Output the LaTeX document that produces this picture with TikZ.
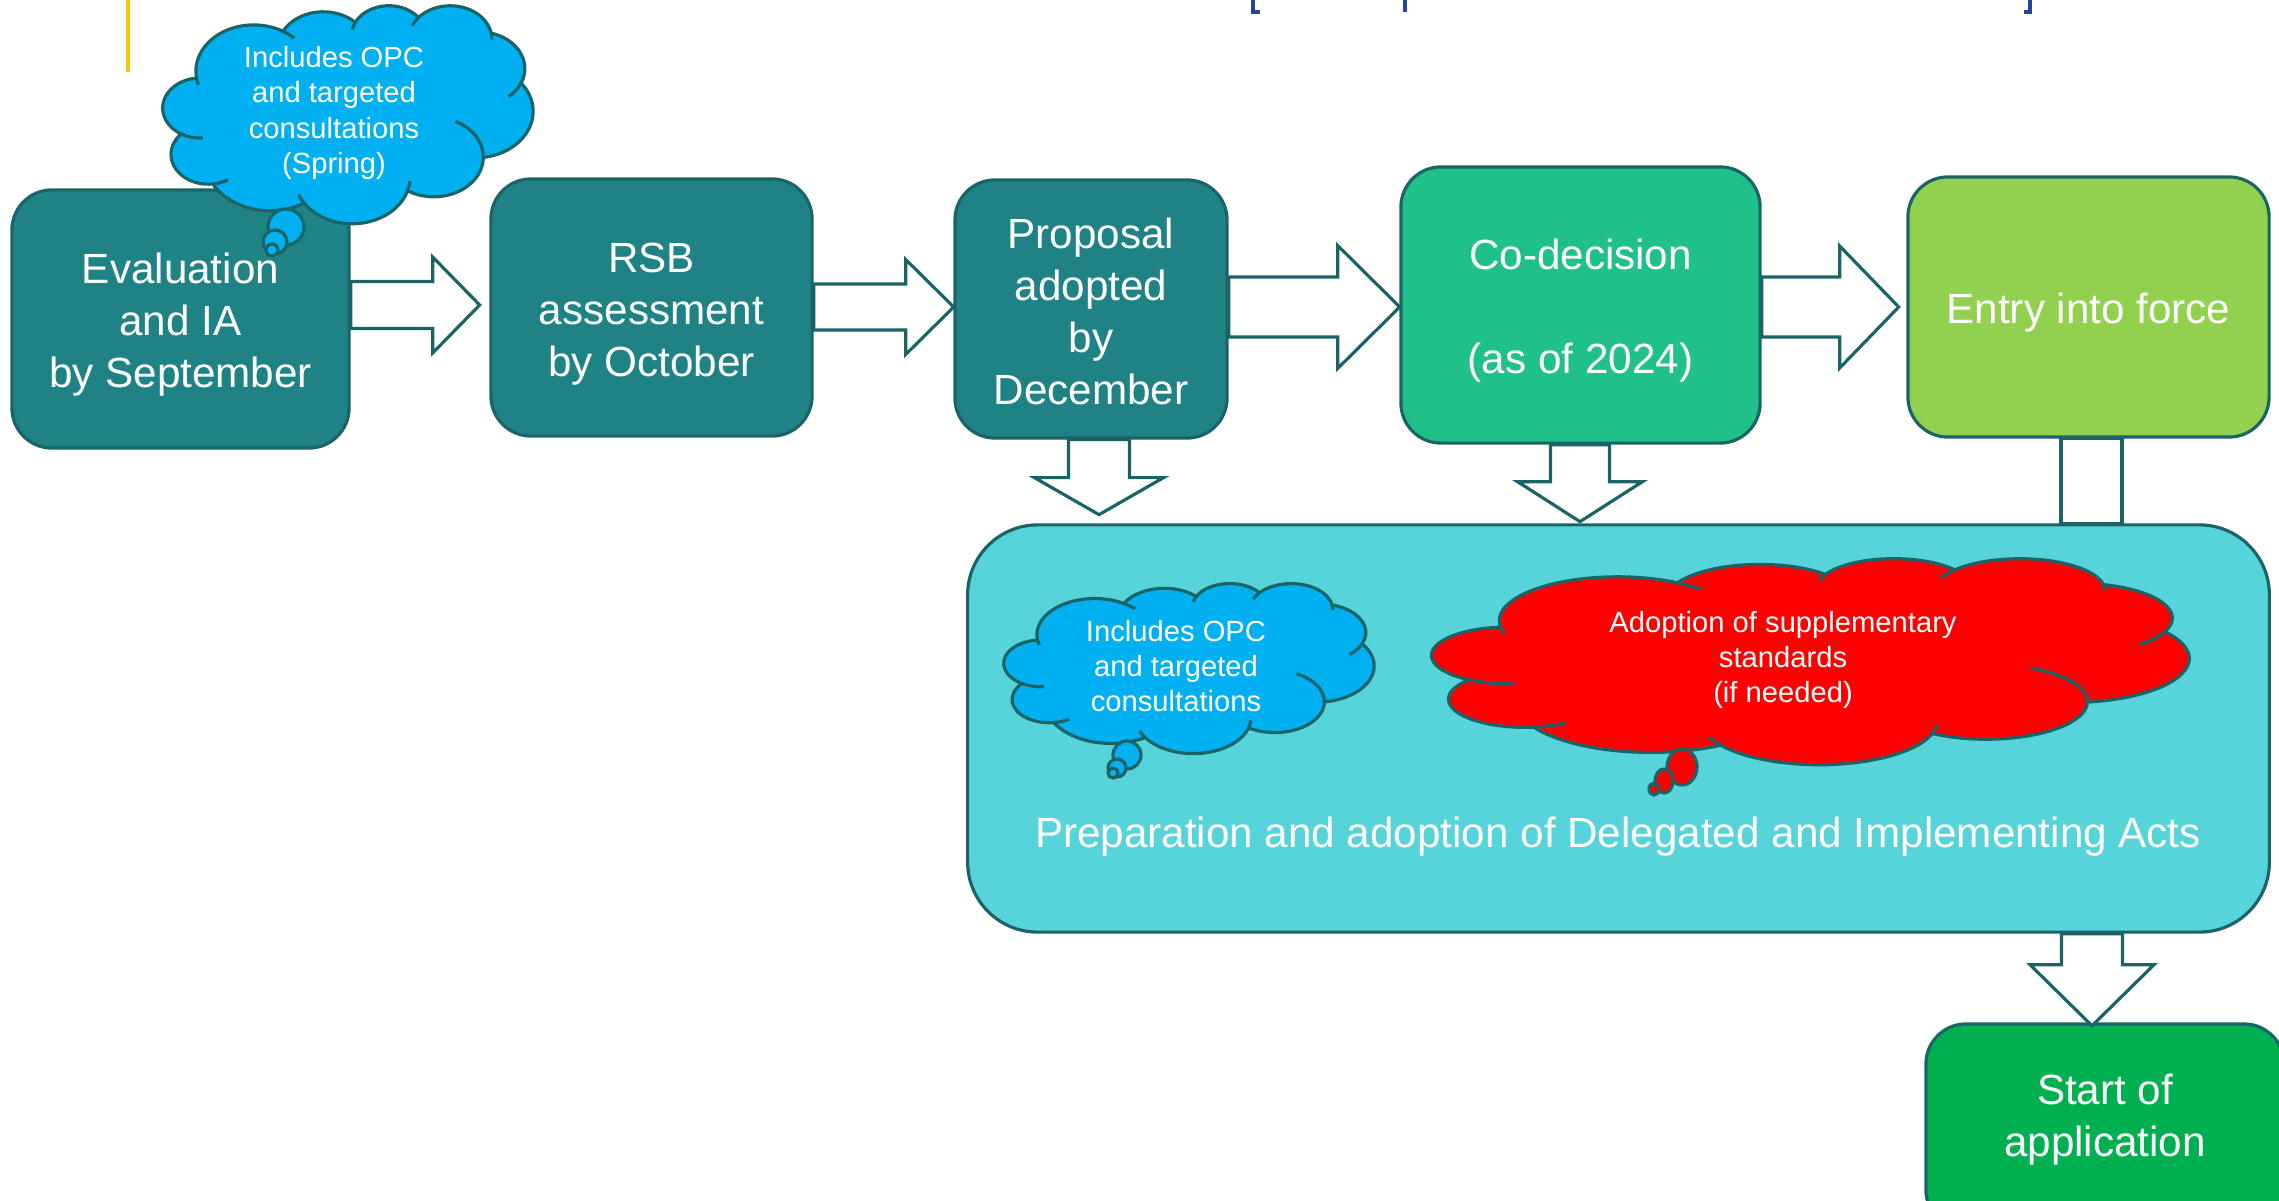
\documentclass[tikz,border=0pt]{standalone}
\usepackage{fontspec}
\setmainfont{Liberation Sans}
\usetikzlibrary{calc}
\definecolor{tealf}{RGB}{31,131,134}
\definecolor{outl}{RGB}{26,100,104}
\definecolor{cgreen}{RGB}{32,192,139}
\definecolor{lgreen}{RGB}{146,208,80}
\definecolor{cyanbig}{RGB}{87,211,218}
\definecolor{dgreen}{RGB}{0,176,80}
\definecolor{cblue}{RGB}{0,176,240}
\definecolor{cred}{RGB}{255,0,0}
\definecolor{yel}{RGB}{255,192,0}
\definecolor{tblue}{RGB}{32,70,160}
\newcommand\rarr[5]{\draw[blk] ($(#1)+(0,-#4)$) -- ($(#1)+(#2,-#4)$) -- ($(#1)+(#2,-#5)$) -- ($(#1)+(#3,0)$) -- ($(#1)+(#2,#5)$) -- ($(#1)+(#2,#4)$) -- ($(#1)+(0,#4)$) -- cycle;}
\newcommand\darr[5]{\draw[blk] ($(#1)+(-#4,0)$) -- ($(#1)+(-#4,#2)$) -- ($(#1)+(-#5,#2)$) -- ($(#1)+(0,#3)$) -- ($(#1)+(#5,#2)$) -- ($(#1)+(#4,#2)$) -- ($(#1)+(#4,0)$) -- cycle;}
% elliptic arc helper: visual angles -> parametric angles
\newcommand\cldcalc[5]{%
  \pgfmathsetmacro\tmpA{atan2((#2)*sin(#4),(#3)*cos(#4))}%
  \pgfmathsetmacro\tmpB{atan2((#2)*sin(#5),(#3)*cos(#5))}%
  \pgfmathsetmacro\tmpD{\tmpB-\tmpA}%
  \pgfmathsetmacro\tmpD{(((#5)>(#4)) && (\tmpD<0)) ? (\tmpD+360) : ((((#5)<(#4)) && (\tmpD>0)) ? (\tmpD-360) : \tmpD)}%
  \expandafter\xdef\csname cS#1\endcsname{\tmpA}%
  \expandafter\xdef\csname cD#1\endcsname{\tmpD}%
}
\newcommand\cloudpath[1]{%
\draw[bub, fill=#1] (9.028,33.264) coordinate (j0)
 arc[x radius=15.632,y radius=21.273,start angle=\cSA,delta angle=\cDA] coordinate (jA)
 arc[x radius=12.345,y radius=16.822,start angle=\cSB,delta angle=\cDB] coordinate (jB)
 arc[x radius=10.104,y radius=13.762,start angle=\cSC,delta angle=\cDC] coordinate (jC)
 arc[x radius=11.243,y radius=15.266,start angle=\cSD,delta angle=\cDD] coordinate (jD)
 arc[x radius=12.345,y radius=16.836,start angle=\cSE,delta angle=\cDE] coordinate (jE)
 arc[x radius=15.683,y radius=21.343,start angle=\cSF,delta angle=\cDF] coordinate (jF)
 arc[x radius=13.391,y radius=18.211,start angle=\cSG,delta angle=\cDG] coordinate (jG)
 arc[x radius=15.630,y radius=21.331,start angle=\cSH,delta angle=\cDH] coordinate (jH)
 arc[x radius=17.870,y radius=24.405,start angle=\cSI,delta angle=\cDI] coordinate (jI)
 arc[x radius=10.093,y radius=13.699,start angle=\cSJ,delta angle=\cDJ] coordinate (jJ)
 arc[x radius=10.058,y radius=13.762,start angle=\cSK,delta angle=\cDK] -- cycle;
\draw[bub] (jA) arc[x radius=15.632,y radius=21.273,start angle=\cSIj,delta angle=\cDIj]
 (jB) arc[x radius=10.104,y radius=13.762,start angle=\cSIi,delta angle=\cDIi]
 (jC) arc[x radius=11.243,y radius=15.266,start angle=\cSIh,delta angle=\cDIh]
 (jD) arc[x radius=11.243,y radius=15.266,start angle=\cSIg,delta angle=\cDIg]
 (jE) arc[x radius=12.345,y radius=16.836,start angle=\cSIf,delta angle=\cDIf]
 (jF) arc[x radius=13.391,y radius=18.211,start angle=\cSIe,delta angle=\cDIe]
 (jG) arc[x radius=15.630,y radius=21.331,start angle=\cSId,delta angle=\cDId]
 (jH) arc[x radius=15.630,y radius=21.331,start angle=\cSIc,delta angle=\cDIc]
 (jI) arc[x radius=10.093,y radius=13.699,start angle=\cSIb,delta angle=\cDIb]
 (jJ) arc[x radius=10.058,y radius=13.762,start angle=\cSIa,delta angle=\cDIa]
 (j0) arc[x radius=15.632,y radius=21.273,start angle=\cSIk,delta angle=\cDIk];
}
\tikzset{
  blk/.style={draw=outl, fill=white, line width=0.9pt, line join=miter},
  stepbox/.style={draw=outl, line width=0.9pt, rounded corners=0.4cm, inner sep=0pt},
  txt/.style={text=white, align=center, inner sep=0pt, font=\fontsize{12}{14.8}\selectfont},
  bub/.style={draw=outl, line width=0.9pt},
  ctext/.style={text=white, align=center, inner sep=0pt, font=\fontsize{8.3}{10}\selectfont},
}
\begin{document}
\begin{tikzpicture}[x=0.01cm, y=-0.01cm]
\cldcalc{A}{15.632}{21.273}{-190.4875}{-66.7070}
\cldcalc{B}{12.345}{16.822}{-144.1024}{-54.1572}
\cldcalc{C}{10.104}{13.762}{-145.8079}{-46.0849}
\cldcalc{D}{11.243}{15.266}{-130.9861}{-13.7444}
\cldcalc{E}{12.345}{16.836}{-78.7089}{30.3180}
\cldcalc{F}{15.683}{21.343}{-46.2673}{84.0017}
\cldcalc{G}{13.391}{18.211}{0.6250}{114.6583}
\cldcalc{H}{15.630}{21.331}{22.4516}{137.6242}
\cldcalc{I}{17.870}{24.405}{66.2426}{141.9536}
\cldcalc{J}{10.093}{13.699}{-274.9421}{-128.2065}
\cldcalc{K}{10.058}{13.762}{-246.8285}{-94.3096}
\cldcalc{Ij}{15.632}{21.273}{-66.7070}{-54.3876}
\cldcalc{Ii}{10.104}{13.762}{-145.8079}{-163.4943}
\cldcalc{Ih}{11.243}{15.266}{-130.9861}{-149.1815}
\cldcalc{Ig}{11.243}{15.266}{-13.7444}{1.1144}
\cldcalc{If}{12.345}{16.836}{30.3180}{58.0695}
\cldcalc{Ie}{13.391}{18.211}{0.6250}{-70.2924}
\cldcalc{Id}{15.630}{21.331}{22.4516}{6.4533}
\cldcalc{Ic}{15.630}{21.331}{137.6242}{151.3834}
\cldcalc{Ib}{10.093}{13.699}{-274.9421}{-294.5478}
\cldcalc{Ia}{10.058}{13.762}{-246.8285}{-273.2580}
\cldcalc{Ik}{15.632}{21.273}{-190.4875}{-202.3457}
\useasboundingbox (0,0) rectangle (2279,1200);
\clip (0,0) rectangle (2279,1200);
% header fragments
\draw[yel, line width=1.2pt] (128,0) -- (128,72);
\draw[tblue, line width=1.1pt] (1253,0) -- (1253,12) -- (1260,12);
\draw[tblue, line width=1.1pt] (1405,0) -- (1405,12);
\draw[tblue, line width=1.1pt] (2030,0) -- (2030,12) -- (2024,12);
% boxes
\node[stepbox, fill=tealf, minimum width=3.37cm, minimum height=2.58cm] (b1) at (180.5,319) {};
\node[stepbox, fill=tealf, minimum width=3.21cm, minimum height=2.57cm] (b2) at (651.5,307.5) {};
\node[stepbox, fill=tealf, minimum width=2.72cm, minimum height=2.58cm] (b3) at (1091,309) {};
\node[stepbox, fill=cgreen, minimum width=3.59cm, minimum height=2.76cm] (b4) at (1580.5,305) {};
\node[stepbox, fill=lgreen, minimum width=3.61cm, minimum height=2.60cm] (b5) at (2088.5,307) {};
\node[stepbox, fill=cyanbig, rounded corners=0.7cm, minimum width=13.01cm, minimum height=4.07cm] (big) at (1618.5,728.5) {};
\node[stepbox, fill=dgreen, minimum width=3.58cm, minimum height=2.06cm] (b6) at (2105,1127) {};
% connectors (block arrows)
\coordinate (a1) at (b1.east |- 0,305);
\coordinate (a2) at (b2.east |- 0,307);
\coordinate (a3) at (b3.east |- 0,307);
\coordinate (a4) at (b4.east |- 0,307);
\coordinate (d1) at (b3.south -| 1099,0);
\coordinate (d2) at (b4.south -| 1580,0);
\coordinate (d3) at (big.south -| 2092,0);
\rarr{a1}{82}{129}{23.5}{48}
\rarr{a2}{92}{140}{23}{47.5}
\rarr{a3}{109}{171}{30}{61.5}
\rarr{a4}{78}{137}{30}{61}
\darr{d1}{38}{75}{30.5}{64.5}
\darr{d2}{37}{77}{29.5}{62.5}
\darr{d3}{31}{92}{30.5}{62}
\draw[blk] (b5.south -| 2061,0) rectangle (big.north -| 2122,0);
% box texts
\node[txt] (t1) at ($(b1.center)+(0,6)$) {Evaluation\\and IA\\by September};
\node[txt] (t2) at ($(b2.center)+(0,7)$) {RSB\\assessment\\by October};
\node[txt] (t3) at ($(b3.center)+(0,2)$) {Proposal\\adopted\\by\\December};
\node[txt] (t4) at ($(b4.center)+(0,6)$) {Co-decision\\[14.8pt](as of 2024)};
\node[txt] (t5) at ($(b5.center)+(0,6)$) {Entry into force};
\node[txt] (t6) at (2105,1120) {Start of\\application};
\node[txt] (tbig) at (1618,837) {Preparation and adoption of Delegated and Implementing Acts};
% clouds
\begin{scope}[shift={(163,5)}, xscale=3.70, yscale=2.18]
\cloudpath{cblue}
\end{scope}
\draw[bub, fill=cblue] (286,227) circle[radius=18];
\draw[bub, fill=cblue] (275,242) circle[radius=12];
\draw[bub, fill=cblue] (272,250) circle[radius=6];
\node[ctext] (c1t) at (334,113) {Includes OPC\\and targeted\\consultations\\(Spring)};
\begin{scope}[shift={(1004,583)}, xscale=3.70, yscale=1.70]
\cloudpath{cblue}
\end{scope}
\draw[bub, fill=cblue] (1127,755) circle[radius=14];
\draw[bub, fill=cblue] (1117,768) circle[radius=9];
\draw[bub, fill=cblue] (1113,773) circle[radius=5];
\node[ctext] (c2t) at (1176,666) {Includes OPC\\and targeted\\consultations};
\begin{scope}[shift={(1432,558)}, xscale=7.57, yscale=2.06]
\cloudpath{cred}
\end{scope}
\draw[bub, fill=cred] (1682,767) circle[x radius=15, y radius=18];
\draw[bub, fill=cred] (1664,781) circle[x radius=9, y radius=12];
\draw[bub, fill=cred] (1654,789) circle[x radius=5, y radius=6];
\node[ctext] (c3t) at (1783,660) {Adoption of supplementary\\standards\\(if needed)};
\end{tikzpicture}
\end{document}
